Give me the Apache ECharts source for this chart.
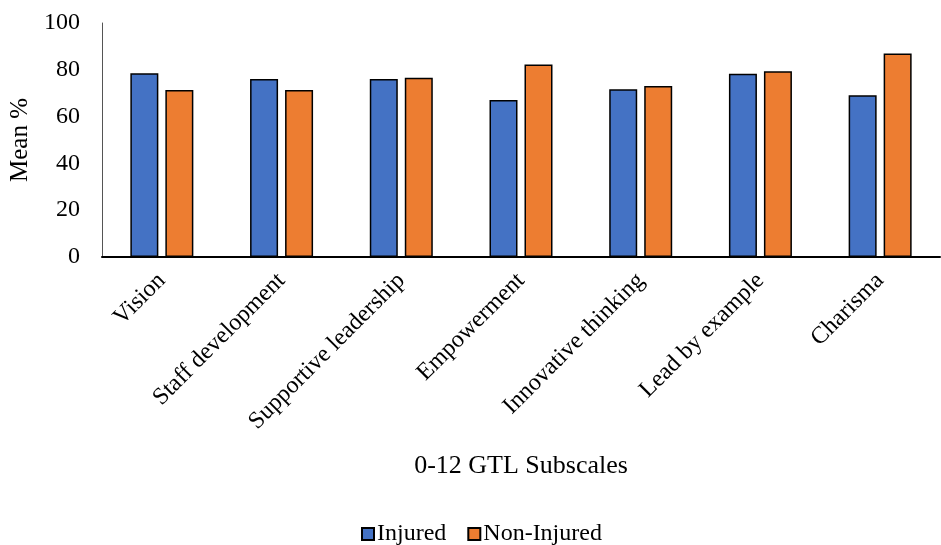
<!DOCTYPE html>
<html>
<head>
<meta charset="utf-8">
<script src="https://cdn.jsdelivr.net/npm/echarts@6/dist/echarts.min.js"></script>
<style>
  html, body { margin: 0; padding: 0; background: #fff; }
  #chart { width: 941px; height: 545px; }
</style>
</head>
<body>
<div id="chart"></div>
<script>
// 分类与数据
const categories = ['Vision', 'Staff development', 'Supportive leadership', 'Empowerment',
  'Innovative thinking', 'Lead by example', 'Charisma']
const injured = [78.5, 76.1, 76.1, 67.1, 71.7, 78.3, 69.1]
const nonInjured = [71.4, 71.4, 76.6, 82.3, 73.1, 79.4, 87.0]
const yTicks = [0, 20, 40, 60, 80, 100]

const font = '"Liberation Serif", "Times New Roman", serif'

const chart = echarts.init(document.getElementById('chart'))

const barStyle = (color) => ({
  color: color,
  borderColor: '#000',
  borderWidth: 1.5
})

chart.setOption({
  animation: false,
  textStyle: { fontFamily: font, color: '#000' },
  grid: { left: 102, right: 1, top: 23, bottom: 288, containLabel: false },
  legend: {
    top: 517,
    left: 356,
    itemWidth: 12,
    itemHeight: 12,
    itemGap: 21,
    icon: 'rect',
    textStyle: { fontFamily: font, fontSize: 24, color: '#000', padding: [0, 0, 0, -2] },
    data: ['Injured', 'Non-Injured']
  },
  xAxis: {
    type: 'category',
    data: categories,
    name: '0-12 GTL Subscales',
    nameLocation: 'middle',
    nameGap: 196,
    nameTextStyle: { fontFamily: font, fontSize: 26, color: '#000' },
    axisLine: { lineStyle: { color: '#000', width: 2 } },
    axisTick: { show: false },
    axisLabel: { rotate: 45, fontFamily: font, fontSize: 24, color: '#000', margin: 20, interval: 0 }
  },
  yAxis: {
    type: 'value',
    min: yTicks[0],
    max: yTicks[yTicks.length - 1],
    interval: 20,
    name: 'Mean %',
    nameLocation: 'middle',
    nameGap: 56,
    nameTextStyle: { fontFamily: font, fontSize: 25, color: '#000' },
    axisLine: { show: true, lineStyle: { color: '#555', width: 1 } },
    axisTick: { show: false },
    splitLine: { show: false },
    axisLabel: { fontFamily: font, fontSize: 24, color: '#000', margin: 22 }
  },
  series: [
    {
      name: 'Injured',
      type: 'bar',
      data: injured,
      barWidth: 28,
      barGap: '25%',
      itemStyle: barStyle('#4472C4')
    },
    {
      name: 'Non-Injured',
      type: 'bar',
      data: nonInjured,
      barWidth: 28,
      barGap: '25%',
      itemStyle: barStyle('#ED7D31')
    }
  ]
})
</script>
</body>
</html>
